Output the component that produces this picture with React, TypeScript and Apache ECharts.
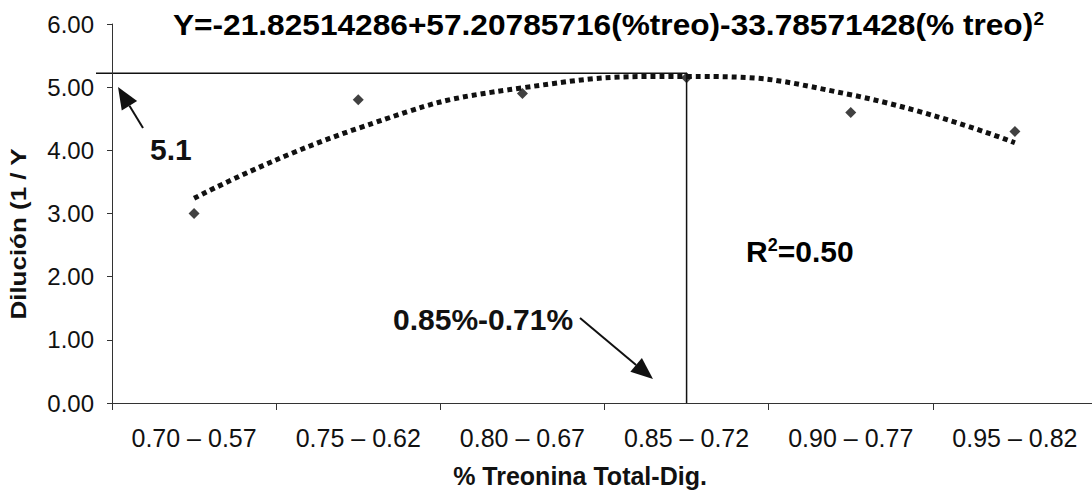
import React, { useEffect, useRef } from "react";
import * as echarts from "echarts";

const categories = ["0.70 – 0.57", "0.75 – 0.62", "0.80 – 0.67", "0.85 – 0.72", "0.90 – 0.77", "0.95 – 0.82"];
const observed = [3.0, 4.8, 4.9, 5.15, 4.6, 4.3];
const trend = [3.24, 4.35, 4.99, 5.17, 4.88, 4.12];
const yMin = 0;
const yMax = 6;
const yInterval = 1;
const optimumValue = 5.22;
const optimumCategory = "0.85 – 0.72";
const titleMain = "Y=-21.82514286+57.20785716(%treo)-33.78571428(% treo)";
const titleSup = "2";
const yAxisName = "Dilución (1 / Y";
const xAxisName = "% Treonina Total-Dig.";
const optimumLabel = "5.1";
const rangeLabel = "0.85%-0.71%";
const r2Base = "R";
const r2Sup = "2";
const r2Rest = "=0.50";

const FONT = "'Liberation Sans', Arial, Helvetica, sans-serif";
const INK = "#111";

function arrow(x1: number, y1: number, x2: number, y2: number, headLen = 20, headW = 8) {
  const dx = x2 - x1;
  const dy = y2 - y1;
  const len = Math.sqrt(dx * dx + dy * dy);
  const ux = dx / len;
  const uy = dy / len;
  const bx = x2 - ux * headLen;
  const by = y2 - uy * headLen;
  return [
    {
      type: "line",
      shape: { x1, y1, x2: bx, y2: by },
      style: { stroke: INK, lineWidth: 2 },
    },
    {
      type: "polygon",
      shape: {
        points: [
          [x2, y2],
          [bx - uy * headW, by + ux * headW],
          [bx + uy * headW, by - ux * headW],
        ],
      },
      style: { fill: INK },
    },
  ];
}

const richSup = {
  b: { fontSize: 30, fontWeight: "bold", fontFamily: FONT, color: INK, verticalAlign: "bottom" },
  s: { fontSize: 18, fontWeight: "bold", fontFamily: FONT, color: INK, verticalAlign: "top" },
};

export default function App() {
  const ref = useRef<HTMLDivElement>(null);

  useEffect(() => {
    document.body.style.margin = "0";
    if (!ref.current) return;
    const chart = echarts.init(ref.current, null, { renderer: "svg" });
    chart.setOption({
      animation: false,
      backgroundColor: "#fff",
      textStyle: { fontFamily: FONT },
      grid: { left: 112, top: 24, width: 985, height: 379, containLabel: false, outerBoundsMode: "none" },
      xAxis: {
        type: "category",
        data: categories,
        boundaryGap: true,
        axisLine: { show: true, lineStyle: { color: "#333", width: 1 } },
        axisTick: { show: true, alignWithLabel: false, length: 7, lineStyle: { color: "#333" } },
        axisLabel: { fontSize: 25, color: INK, margin: 22, fontFamily: FONT },
        splitLine: { show: false },
      },
      yAxis: {
        type: "value",
        min: yMin,
        max: yMax,
        interval: yInterval,
        axisLine: { show: true, lineStyle: { color: "#333", width: 1 } },
        axisTick: { show: true, length: 5, lineStyle: { color: "#333" } },
        axisLabel: {
          fontSize: 24,
          color: INK,
          margin: 18,
          fontFamily: FONT,
          formatter: (v: number) => v.toFixed(2),
        },
        splitLine: { show: false },
      },
      series: [
        {
          type: "line",
          data: trend,
          smooth: true,
          showSymbol: false,
          symbol: "none",
          lineStyle: { color: INK, width: 5, type: [5, 4], cap: "butt" },
          z: 2,
        },
        {
          type: "scatter",
          data: observed,
          symbol: "diamond",
          symbolSize: 11,
          itemStyle: { color: INK },
          z: 3,
        },
      ],
    });

    const xOpt = chart.convertToPixel({ xAxisIndex: 0 }, optimumCategory) as number;
    const yOpt = chart.convertToPixel({ yAxisIndex: 0 }, optimumValue) as number;
    const y0 = chart.convertToPixel({ yAxisIndex: 0 }, yMin) as number;

    chart.setOption({
      graphic: [
        {
          type: "line",
          shape: { x1: 96, y1: yOpt, x2: xOpt, y2: yOpt },
          style: { stroke: INK, lineWidth: 1.5 },
        },
        {
          type: "line",
          shape: { x1: xOpt, y1: yOpt, x2: xOpt, y2: y0 },
          style: { stroke: INK, lineWidth: 1.5 },
        },
        {
          type: "text",
          x: 173,
          y: 10,
          scaleX: 1.055,
          style: {
            text: `{b|${titleMain}}{s|${titleSup}}`,
            rich: richSup,
            align: "left",
            verticalAlign: "top",
          },
        },
        {
          type: "text",
          x: 150,
          y: 149,
          style: { text: optimumLabel, fontSize: 30, fontWeight: "bold", fontFamily: FONT, fill: INK, align: "left", verticalAlign: "middle" },
        },
        {
          type: "text",
          x: 746,
          y: 236,
          style: {
            text: `{b|${r2Base}}{s|${r2Sup}}{b|${r2Rest}}`,
            rich: richSup,
            align: "left",
            verticalAlign: "top",
          },
        },
        {
          type: "text",
          x: 393,
          y: 319,
          style: { text: rangeLabel, fontSize: 30, fontWeight: "bold", fontFamily: FONT, fill: INK, align: "left", verticalAlign: "middle" },
        },
        {
          type: "text",
          x: 580,
          y: 476,
          style: { text: xAxisName, fontSize: 25, fontWeight: "bold", fontFamily: FONT, fill: INK, align: "center", verticalAlign: "middle" },
        },
        {
          type: "text",
          x: 18,
          y: 234,
          rotation: Math.PI / 2,
          scaleX: 1.18,
          style: { text: yAxisName, fontSize: 22, fontWeight: "bold", fontFamily: FONT, fill: INK, align: "center", verticalAlign: "middle" },
        },
        ...arrow(143, 128, 118, 87, 22, 9),
        ...arrow(580, 318, 653, 379, 22, 9),
      ],
    });

    return () => chart.dispose();
  }, []);

  return <div ref={ref} style={{ width: 1092, height: 494 }} />;
}
